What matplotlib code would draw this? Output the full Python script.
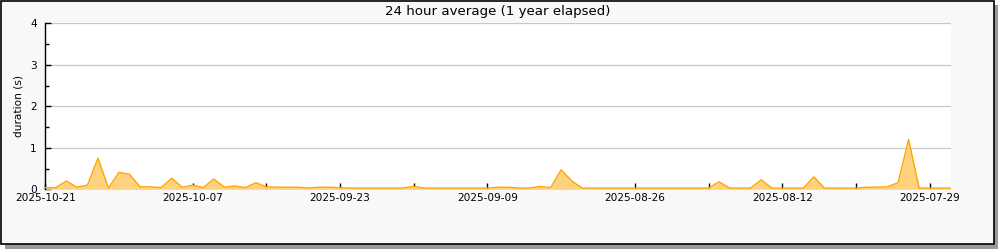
import matplotlib
matplotlib.use("Agg")
import matplotlib.pyplot as plt
from matplotlib.patches import Rectangle
from matplotlib.ticker import MultipleLocator
import pandas as pd

# ---- data (daily, newest first: 2025-10-21 going back) ----
end_date = "2025-10-21"
durations = [
    0.04, 0.04, 0.20, 0.05, 0.10, 0.75, 0.03, 0.41, 0.36, 0.06,
    0.06, 0.04, 0.27, 0.05, 0.10, 0.04, 0.25, 0.05, 0.08, 0.04,
    0.16, 0.06, 0.05, 0.05, 0.05, 0.03, 0.05, 0.05, 0.04, 0.03,
    0.03, 0.03, 0.03, 0.03, 0.03, 0.07, 0.03, 0.03, 0.03, 0.03,
    0.03, 0.03, 0.03, 0.05, 0.05, 0.03, 0.03, 0.07, 0.04, 0.47,
    0.20, 0.03, 0.03, 0.03, 0.03, 0.03, 0.03, 0.03, 0.03, 0.03,
    0.03, 0.03, 0.03, 0.03, 0.18, 0.03, 0.03, 0.03, 0.23, 0.03,
    0.03, 0.03, 0.03, 0.30, 0.03, 0.03, 0.03, 0.03, 0.05, 0.05,
    0.06, 0.16, 1.20, 0.03, 0.03, 0.03, 0.03,
]
dates = pd.date_range(end=end_date, periods=len(durations), freq="D")[::-1]
x_tick_labels = ["2025-10-21", "2025-10-07", "2025-09-23", "2025-09-09",
                 "2025-08-26", "2025-08-12", "2025-07-29"]
minor_tick_dates = ["2025-10-14", "2025-09-30", "2025-09-16", "2025-09-02",
                    "2025-08-19", "2025-08-05"]
x_limits = ("2025-10-21", "2025-07-27")
title = "24 hour average (1 year elapsed)"
ylabel = "duration (s)"

W, H = 1000, 250
fig = plt.figure(figsize=(W / 100, H / 100), dpi=100, facecolor="white")

# frame with drop shadow (pixel coordinates)
fig.patches.append(Rectangle((5, 1), 993, 244, transform=None,
                             facecolor="#9a9a9a", edgecolor="none", zorder=0))
fig.patches.append(Rectangle((1, 6), 993, 243, transform=None,
                             facecolor="#f8f8f8", edgecolor="black",
                             linewidth=1.2, zorder=1))

ax = fig.add_axes([45.3 / W, 1 - 189.3 / H, (950.7 - 45.3) / W, (189.3 - 23.3) / H])
ax.set_facecolor("white")
ax.set_zorder(2)

ax.fill_between(dates, durations, 0, color="#ffd280", linewidth=0, zorder=2)
ax.plot(dates, durations, color="#ffa500", linewidth=1.0, zorder=3)

ax.yaxis.set_major_locator(MultipleLocator(1))
ax.yaxis.set_minor_locator(MultipleLocator(0.5))
ax.grid(axis="y", which="major", color="#c8c8c8", linewidth=0.9, zorder=1)
ax.set_axisbelow(True)

ax.set_xticks([pd.Timestamp(t) for t in x_tick_labels])
ax.set_xticklabels(x_tick_labels)
ax.set_xticks([pd.Timestamp(t) for t in minor_tick_dates], minor=True)

ax.set_xlim(pd.Timestamp(x_limits[0]), pd.Timestamp(x_limits[1]))
ax.set_ylim(0, 4)

for s in ("top", "right", "bottom"):
    ax.spines[s].set_visible(False)
ax.spines["left"].set_color("black")
ax.spines["left"].set_linewidth(1.0)

ax.tick_params(axis="x", which="both", direction="in", length=4.5, width=1,
               color="black", pad=3, labelsize=7.6, bottom=True, top=False)
ax.tick_params(axis="y", which="major", direction="in", length=4, width=1,
               color="black", pad=6, labelsize=7.6, left=True, right=False)
ax.tick_params(axis="y", which="minor", direction="in", length=3, width=1,
               color="black", left=True, right=False)

ax.set_ylabel(ylabel, fontsize=7.6)
ax.yaxis.set_label_coords(-(45.3 - 23.5) / (950.7 - 45.3), 0.5)

fig.text(498 / W, 1 - 11 / H, title, ha="center", va="center", fontsize=9.6)

fig.savefig("out.png", dpi=100, facecolor=fig.get_facecolor())
